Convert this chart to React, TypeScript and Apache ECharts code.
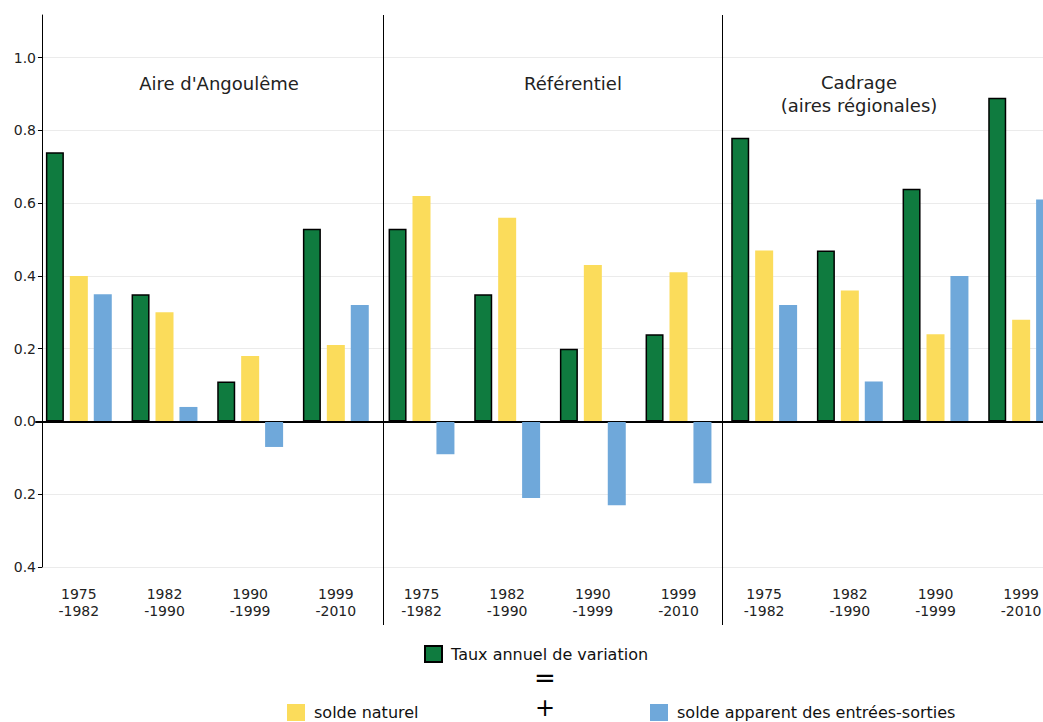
import React, { useEffect, useRef } from "react";
import * as echarts from "echarts";

const periods = ["1975\n-1982", "1982\n-1990", "1990\n-1999", "1999\n-2010"];
const panels = ["Aire d'Angoulême", "Référentiel", "Cadrage\n(aires régionales)"];
const categories = [...periods, ...periods, ...periods];

const tauxAnnuel = [0.74, 0.35, 0.11, 0.53, 0.53, 0.35, 0.2, 0.24, 0.78, 0.47, 0.64, 0.89];
const soldeNaturel = [0.4, 0.3, 0.18, 0.21, 0.62, 0.56, 0.43, 0.41, 0.47, 0.36, 0.24, 0.28];
const soldeMigratoire = [0.35, 0.04, -0.07, 0.32, -0.09, -0.21, -0.23, -0.17, 0.32, 0.11, 0.4, 0.61];

const seriesNames = [
  "Taux annuel de variation",
  "solde naturel",
  "solde apparent des entrées-sorties",
];

const GREEN = "#0f7b3f";
const YELLOW = "#fbdc5b";
const BLUE = "#6fa8da";
const FONT = "DejaVu Sans";

export default function App() {
  const ref = useRef<HTMLDivElement>(null);
  useEffect(() => {
    if (!ref.current) return;
    document.body.style.overflow = "hidden";
    const chart = echarts.init(ref.current, undefined, { renderer: "svg" });
    const legendText = { fontFamily: FONT, fontSize: 16, color: "#111", padding: [0, 0, 0, 4] };
    chart.setOption({
      animation: false,
      backgroundColor: "#fff",
      grid: { left: 36, right: 0, top: 15, bottom: 155, containLabel: false },
      xAxis: {
        type: "category",
        data: categories,
        axisLine: { show: true, lineStyle: { color: "#000", width: 2 } },
        axisTick: { show: false },
        axisLabel: {
          interval: 0,
          color: "#222",
          fontFamily: FONT,
          fontSize: 14,
          lineHeight: 17,
          margin: 18,
        },
        splitLine: { show: false },
      },
      yAxis: {
        type: "value",
        min: -0.4,
        max: 1.1175,
        interval: 0.2,
        offset: -6,
        axisLine: { show: true, lineStyle: { color: "#000", width: 1 } },
        axisTick: { show: true, length: 4, lineStyle: { color: "#000" } },
        axisLabel: {
          color: "#222",
          fontFamily: FONT,
          fontSize: 14,
          margin: 6,
          showMaxLabel: false,
          formatter: (v: number) => (v > 1.05 ? "" : Math.abs(v).toFixed(1)),
        },
        splitLine: { show: true, showMaxLine: false, lineStyle: { color: "#ebebeb", width: 1 } },
      },
      legend: [
        {
          data: [seriesNames[0]],
          left: 419,
          top: 640,
          itemWidth: 17,
          itemHeight: 16,
          icon: "rect",
          textStyle: legendText,
        },
        {
          data: [seriesNames[1]],
          left: 282,
          top: 699,
          itemWidth: 18,
          itemHeight: 17,
          icon: "rect",
          textStyle: legendText,
        },
        {
          data: [seriesNames[2]],
          left: 645,
          top: 699,
          itemWidth: 18,
          itemHeight: 17,
          icon: "rect",
          textStyle: legendText,
        },
      ],
      series: [
        {
          name: seriesNames[0],
          type: "bar",
          data: tauxAnnuel,
          barWidth: 18,
          barGap: "33%",
          itemStyle: { color: GREEN, borderColor: "#000", borderWidth: 1.5 },
          markLine: {
            silent: true,
            symbol: "none",
            label: { show: false },
            lineStyle: { color: "#000", width: 1, type: "solid" },
            data: [{ yAxis: 0 }],
          },
        },
        {
          name: seriesNames[1],
          type: "bar",
          data: soldeNaturel,
          barWidth: 18,
          barGap: "33%",
          itemStyle: { color: YELLOW },
        },
        {
          name: seriesNames[2],
          type: "bar",
          data: soldeMigratoire,
          barWidth: 18,
          barGap: "33%",
          itemStyle: { color: BLUE },
        },
      ],
      graphic: [
        { type: "line", shape: { x1: 383.5, y1: 15, x2: 383.5, y2: 625 }, style: { stroke: "#000", lineWidth: 1 }, z: 10 },
        { type: "line", shape: { x1: 722.5, y1: 15, x2: 722.5, y2: 625 }, style: { stroke: "#000", lineWidth: 1 }, z: 10 },
        {
          type: "text",
          x: 219,
          y: 83,
          style: { text: panels[0], fontFamily: FONT, fontSize: 18, fill: "#222", textAlign: "center", textVerticalAlign: "middle" },
        },
        {
          type: "text",
          x: 573,
          y: 83,
          style: { text: panels[1], fontFamily: FONT, fontSize: 18, fill: "#222", textAlign: "center", textVerticalAlign: "middle" },
        },
        {
          type: "text",
          x: 859,
          y: 71,
          style: { text: panels[2], fontFamily: FONT, fontSize: 18, lineHeight: 23, fill: "#222", textAlign: "center", textVerticalAlign: "top" },
        },
        {
          type: "text",
          x: 545,
          y: 678,
          style: { text: "=", fontFamily: FONT, fontSize: 26, fill: "#000", textAlign: "center", textVerticalAlign: "middle" },
        },
        {
          type: "text",
          x: 545,
          y: 708,
          style: { text: "+", fontFamily: FONT, fontSize: 24, fill: "#000", textAlign: "center", textVerticalAlign: "middle" },
        },
      ],
    });
    return () => chart.dispose();
  }, []);
  return (
    <div
      ref={ref}
      style={{ position: "fixed", left: 0, top: 0, width: 1064, height: 722, background: "#fff" }}
    />
  );
}
